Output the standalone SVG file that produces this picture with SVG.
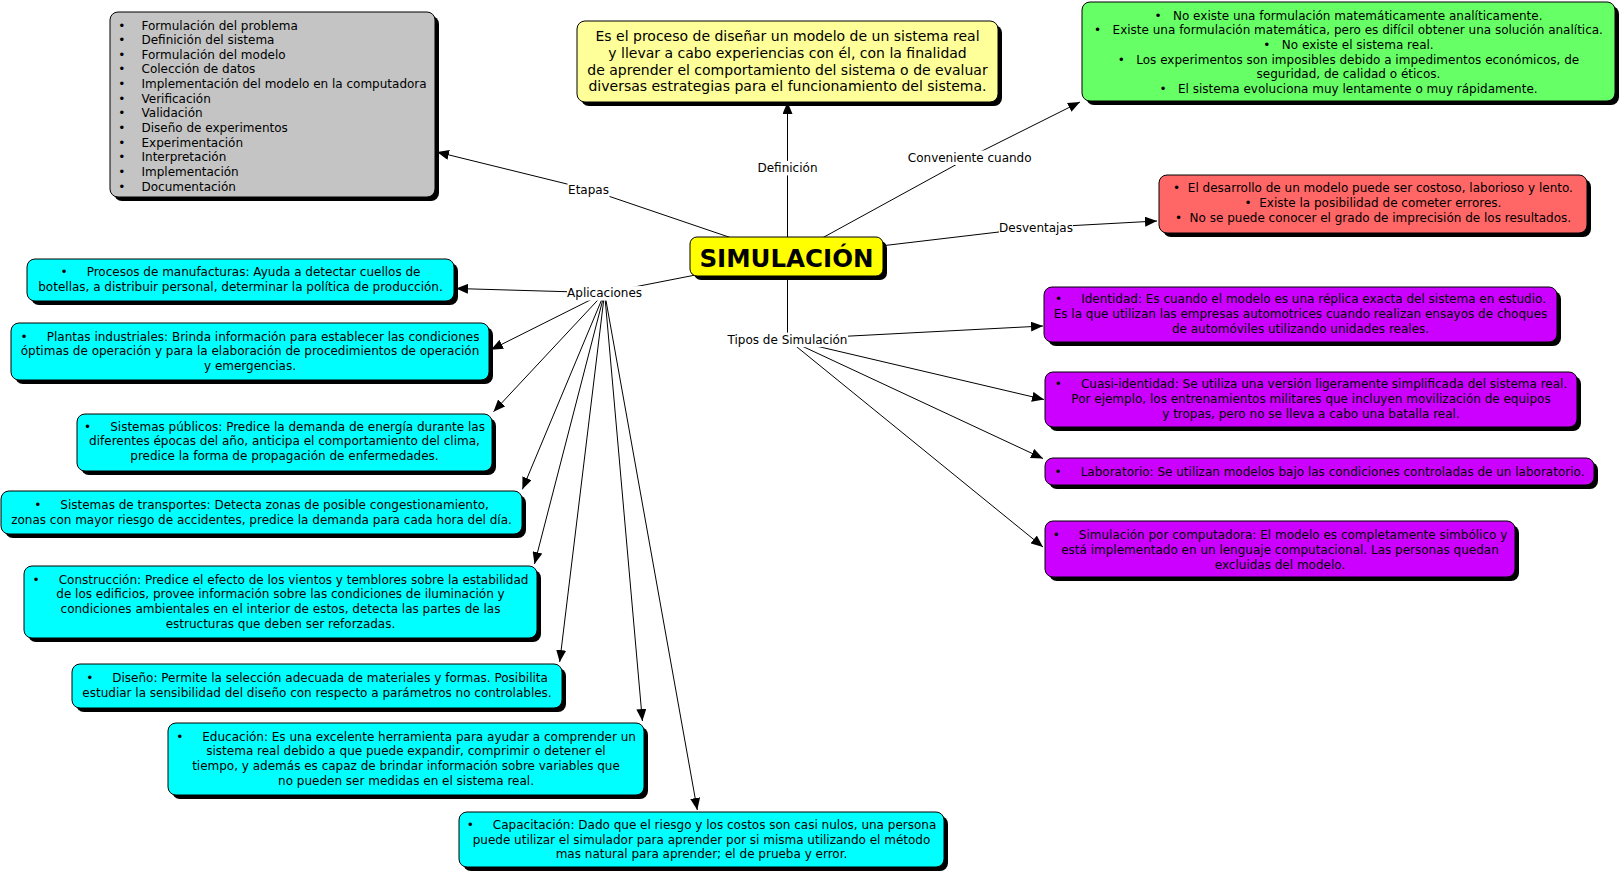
<svg xmlns="http://www.w3.org/2000/svg" width="1619" height="872" viewBox="0 0 1619 872">
<defs>
<marker id="arr" markerWidth="12" markerHeight="10" refX="12" refY="5" orient="auto" markerUnits="userSpaceOnUse"><path d="M0,0 L12,5 L0,10 z" fill="#000"/></marker>
<style>
text { font-family: "DejaVu Sans", Verdana, sans-serif; font-size: 12px; fill: #000; }
.c { text-anchor: middle; }
.sh { fill: #000; }
.bx { stroke: #000; stroke-width: 1; }
.gray { fill: #c4c4c4; }
.ylw { fill: #ffff99; }
.grn { fill: #66ff66; }
.red { fill: #ff6666; }
.pur { fill: #cc00ff; }
.cyn { fill: #00ffff; }
.ctr { fill: #ffff00; }
.ln { stroke: #000; stroke-width: 1; fill: none; }
.ar { marker-end: url(#arr); }
.lb { fill: #fff; }
.big { font-size: 14px; }
.title { font-size: 24.5px; font-weight: bold; }
</style>
</defs>
<rect width="1619" height="872" fill="#fff"/>

<g id="connectors">
<line class="ln" x1="787.5" y1="257" x2="588.5" y2="189.3"/>
<line class="ln ar" x1="588.5" y1="189.3" x2="437" y2="152"/>
<line class="ln" x1="787.5" y1="257" x2="787.5" y2="167.6"/>
<line class="ln ar" x1="787.5" y1="167.6" x2="787.5" y2="102"/>
<line class="ln" x1="787.5" y1="257" x2="969.7" y2="157.2"/>
<line class="ln ar" x1="969.7" y1="157.2" x2="1080" y2="102"/>
<line class="ln" x1="787.5" y1="257" x2="1036" y2="227.6"/>
<line class="ln ar" x1="1036" y1="227.6" x2="1157" y2="221"/>
<line class="ln" x1="787.5" y1="257" x2="787.5" y2="339.3"/>
<line class="ln ar" x1="787.5" y1="339.3" x2="1043" y2="326"/>
<line class="ln ar" x1="787.5" y1="339.3" x2="1044" y2="399.5"/>
<line class="ln ar" x1="787.5" y1="339.3" x2="1043" y2="458.5"/>
<line class="ln ar" x1="787.5" y1="339.3" x2="1043" y2="547"/>
<line class="ln" x1="787.5" y1="257" x2="604.6" y2="292.8"/>
<line class="ln ar" x1="604.6" y1="292.8" x2="456" y2="288.5"/>
<line class="ln ar" x1="604.6" y1="292.8" x2="491" y2="349.7"/>
<line class="ln ar" x1="604.6" y1="292.8" x2="493.5" y2="411.7"/>
<line class="ln ar" x1="604.6" y1="292.8" x2="522.4" y2="489.3"/>
<line class="ln ar" x1="604.6" y1="292.8" x2="534.5" y2="564"/>
<line class="ln ar" x1="604.6" y1="292.8" x2="559.7" y2="662"/>
<line class="ln ar" x1="604.6" y1="292.8" x2="642.4" y2="721"/>
<line class="ln ar" x1="604.6" y1="292.8" x2="697.3" y2="810"/>
<g id="labels">
<rect class="lb" x="567.5" y="182.6" width="42" height="14.5"/>
<text x="588.5" y="193.6" class="c">Etapas</text>
<rect class="lb" x="757.5" y="160.9" width="60" height="14.5"/>
<text x="787.5" y="171.9" class="c">Definición</text>
<rect class="lb" x="905.3" y="150.5" width="129" height="14.5"/>
<text x="969.7" y="161.5" class="c">Conveniente cuando</text>
<rect class="lb" x="999" y="220.9" width="74" height="14.5"/>
<text x="1036" y="231.9" class="c">Desventajas</text>
<rect class="lb" x="727" y="332.6" width="121" height="14.5"/>
<text x="787.5" y="343.6" class="c">Tipos de Simulación</text>
<rect class="lb" x="567" y="286.1" width="75" height="14.5"/>
<text x="604.6" y="297.1" class="c">Aplicaciones</text>
</g>
</g>

<g id="n-simulacion">
<rect class="sh" x="694" y="241" width="193" height="39" rx="7"/>
<rect class="bx ctr" x="690" y="237" width="193" height="39" rx="7"/>
<text x="786.5" y="267" class="c title">SIMULACIÓN</text>
</g>

<g id="n-etapas">
<rect class="sh" x="114" y="16" width="325" height="185" rx="8"/>
<rect class="bx gray" x="110" y="12" width="325" height="185" rx="8"/>
<text x="121.7" y="29.5" class="c">•</text>
<text x="121.7" y="44.1" class="c">•</text>
<text x="121.7" y="58.8" class="c">•</text>
<text x="121.7" y="73.4" class="c">•</text>
<text x="121.7" y="88.1" class="c">•</text>
<text x="121.7" y="102.7" class="c">•</text>
<text x="121.7" y="117.3" class="c">•</text>
<text x="121.7" y="132" class="c">•</text>
<text x="121.7" y="146.6" class="c">•</text>
<text x="121.7" y="161.3" class="c">•</text>
<text x="121.7" y="175.9" class="c">•</text>
<text x="121.7" y="190.5" class="c">•</text>
<text x="141.5" y="29.5">Formulación del problema</text>
<text x="141.5" y="44.1">Definición del sistema</text>
<text x="141.5" y="58.8">Formulación del modelo</text>
<text x="141.5" y="73.4">Colección de datos</text>
<text x="141.5" y="88.1">Implementación del modelo en la computadora</text>
<text x="141.5" y="102.7">Verificación</text>
<text x="141.5" y="117.3">Validación</text>
<text x="141.5" y="132">Diseño de experimentos</text>
<text x="141.5" y="146.6">Experimentación</text>
<text x="141.5" y="161.3">Interpretación</text>
<text x="141.5" y="175.9">Implementación</text>
<text x="141.5" y="190.5">Documentación</text>
</g>

<g id="n-definicion">
<rect class="sh" x="581" y="25" width="421" height="81" rx="8"/>
<rect class="bx ylw" x="577" y="21" width="421" height="81" rx="8"/>
<text x="787.5" y="41" class="c big">Es el proceso de diseñar un modelo de un sistema real</text>
<text x="787.5" y="57.8" class="c big">y llevar a cabo experiencias con él, con la finalidad</text>
<text x="787.5" y="74.6" class="c big">de aprender el comportamiento del sistema o de evaluar</text>
<text x="787.5" y="91.4" class="c big">diversas estrategias para el funcionamiento del sistema.</text>
</g>

<g id="n-conveniente">
<rect class="sh" x="1086" y="6" width="533" height="99" rx="8"/>
<rect class="bx grn" x="1082" y="2" width="533" height="99" rx="8"/>
<text x="1348.5" y="19.5" class="c">•&#160;&#160;&#160;No existe una formulación matemáticamente analíticamente.</text>
<text x="1348.5" y="34.2" class="c">•&#160;&#160;&#160;Existe una formulación matemática, pero es difícil obtener una solución analítica.</text>
<text x="1348.5" y="48.9" class="c">•&#160;&#160;&#160;No existe el sistema real.</text>
<text x="1348.5" y="63.6" class="c">•&#160;&#160;&#160;Los experimentos son imposibles debido a impedimentos económicos, de</text>
<text x="1348.5" y="78.3" class="c">seguridad, de calidad o éticos.</text>
<text x="1348.5" y="93" class="c">•&#160;&#160;&#160;El sistema evoluciona muy lentamente o muy rápidamente.</text>
</g>

<g id="n-desventajas">
<rect class="sh" x="1163" y="179" width="428" height="58" rx="8"/>
<rect class="bx red" x="1159" y="175" width="428" height="58" rx="8"/>
<text x="1373" y="192.3" class="c">•&#160;&#160;El desarrollo de un modelo puede ser costoso, laborioso y lento.</text>
<text x="1373" y="206.9" class="c">•&#160;&#160;Existe la posibilidad de cometer errores.</text>
<text x="1373" y="221.5" class="c">•&#160;&#160;No se puede conocer el grado de imprecisión de los resultados.</text>
</g>

<g id="n-identidad">
<rect class="sh" x="1048" y="291" width="513" height="55" rx="8"/>
<rect class="bx pur" x="1044" y="287" width="513" height="55" rx="8"/>
<text x="1300.5" y="303.3" class="c">•&#160;&#160;&#160;&#160;&#160;Identidad: Es cuando el modelo es una réplica exacta del sistema en estudio.</text>
<text x="1300.5" y="318" class="c">Es la que utilizan las empresas automotrices cuando realizan ensayos de choques</text>
<text x="1300.5" y="332.7" class="c">de automóviles utilizando unidades reales.</text>
</g>

<g id="n-cuasi">
<rect class="sh" x="1049" y="376" width="532" height="55" rx="8"/>
<rect class="bx pur" x="1045" y="372" width="532" height="55" rx="8"/>
<text x="1311" y="388.3" class="c">•&#160;&#160;&#160;&#160;&#160;Cuasi-identidad: Se utiliza una versión ligeramente simplificada del sistema real.</text>
<text x="1311" y="403" class="c">Por ejemplo, los entrenamientos militares que incluyen movilización de equipos</text>
<text x="1311" y="417.7" class="c">y tropas, pero no se lleva a cabo una batalla real.</text>
</g>

<g id="n-laboratorio">
<rect class="sh" x="1049" y="462" width="549" height="27" rx="8"/>
<rect class="bx pur" x="1045" y="458" width="549" height="27" rx="8"/>
<text x="1319.5" y="475.5" class="c">•&#160;&#160;&#160;&#160;&#160;Laboratorio: Se utilizan modelos bajo las condiciones controladas de un laboratorio.</text>
</g>

<g id="n-computadora">
<rect class="sh" x="1049" y="525" width="470" height="56" rx="8"/>
<rect class="bx pur" x="1045" y="521" width="470" height="56" rx="8"/>
<text x="1280" y="539.3" class="c">•&#160;&#160;&#160;&#160;&#160;Simulación por computadora: El modelo es completamente simbólico y</text>
<text x="1280" y="554" class="c">está implementado en un lenguaje computacional. Las personas quedan</text>
<text x="1280" y="568.7" class="c">excluidas del modelo.</text>
</g>

<g id="n-manufactura">
<rect class="sh" x="31" y="263" width="427" height="42" rx="8"/>
<rect class="bx cyn" x="27" y="259" width="427" height="42" rx="8"/>
<text x="240.5" y="276.3" class="c">•&#160;&#160;&#160;&#160;&#160;Procesos de manufacturas: Ayuda a detectar cuellos de</text>
<text x="240.5" y="291" class="c">botellas, a distribuir personal, determinar la política de producción.</text>
</g>

<g id="n-plantas">
<rect class="sh" x="15" y="327" width="478" height="57" rx="8"/>
<rect class="bx cyn" x="11" y="323" width="478" height="57" rx="8"/>
<text x="250" y="340.5" class="c">•&#160;&#160;&#160;&#160;&#160;Plantas industriales: Brinda información para establecer las condiciones</text>
<text x="250" y="355.2" class="c">óptimas de operación y para la elaboración de procedimientos de operación</text>
<text x="250" y="369.9" class="c">y emergencias.</text>
</g>

<g id="n-publicos">
<rect class="sh" x="81" y="418" width="415" height="57" rx="8"/>
<rect class="bx cyn" x="77" y="414" width="415" height="57" rx="8"/>
<text x="284.5" y="430.5" class="c">•&#160;&#160;&#160;&#160;&#160;Sistemas públicos: Predice la demanda de energía durante las</text>
<text x="284.5" y="445.2" class="c">diferentes épocas del año, anticipa el comportamiento del clima,</text>
<text x="284.5" y="459.9" class="c">predice la forma de propagación de enfermedades.</text>
</g>

<g id="n-transportes">
<rect class="sh" x="5" y="495" width="521" height="43" rx="8"/>
<rect class="bx cyn" x="1" y="491" width="521" height="43" rx="8"/>
<text x="261.5" y="509" class="c">•&#160;&#160;&#160;&#160;&#160;Sistemas de transportes: Detecta zonas de posible congestionamiento,</text>
<text x="261.5" y="523.7" class="c">zonas con mayor riesgo de accidentes, predice la demanda para cada hora del día.</text>
</g>

<g id="n-construccion">
<rect class="sh" x="28" y="570" width="513" height="72" rx="8"/>
<rect class="bx cyn" x="24" y="566" width="513" height="72" rx="8"/>
<text x="280.5" y="583.6" class="c">•&#160;&#160;&#160;&#160;&#160;Construcción: Predice el efecto de los vientos y temblores sobre la estabilidad</text>
<text x="280.5" y="598.3" class="c">de los edificios, provee información sobre las condiciones de iluminación y</text>
<text x="280.5" y="613" class="c">condiciones ambientales en el interior de estos, detecta las partes de las</text>
<text x="280.5" y="627.7" class="c">estructuras que deben ser reforzadas.</text>
</g>

<g id="n-diseno">
<rect class="sh" x="76" y="668" width="490" height="44" rx="8"/>
<rect class="bx cyn" x="72" y="664" width="490" height="44" rx="8"/>
<text x="317" y="681.9" class="c">•&#160;&#160;&#160;&#160;&#160;Diseño: Permite la selección adecuada de materiales y formas. Posibilita</text>
<text x="317" y="696.6" class="c">estudiar la sensibilidad del diseño con respecto a parámetros no controlables.</text>
</g>

<g id="n-educacion">
<rect class="sh" x="172" y="727" width="476" height="72" rx="8"/>
<rect class="bx cyn" x="168" y="723" width="476" height="72" rx="8"/>
<text x="406" y="740.5" class="c">•&#160;&#160;&#160;&#160;&#160;Educación: Es una excelente herramienta para ayudar a comprender un</text>
<text x="406" y="755.2" class="c">sistema real debido a que puede expandir, comprimir o detener el</text>
<text x="406" y="769.9" class="c">tiempo, y además es capaz de brindar información sobre variables que</text>
<text x="406" y="784.6" class="c">no pueden ser medidas en el sistema real.</text>
</g>

<g id="n-capacitacion">
<rect class="sh" x="463" y="816" width="485" height="55" rx="8"/>
<rect class="bx cyn" x="459" y="812" width="485" height="55" rx="8"/>
<text x="701.5" y="828.8" class="c">•&#160;&#160;&#160;&#160;&#160;Capacitación: Dado que el riesgo y los costos son casi nulos, una persona</text>
<text x="701.5" y="843.5" class="c">puede utilizar el simulador para aprender por si misma utilizando el método</text>
<text x="701.5" y="858.2" class="c">mas natural para aprender; el de prueba y error.</text>
</g>
</svg>
